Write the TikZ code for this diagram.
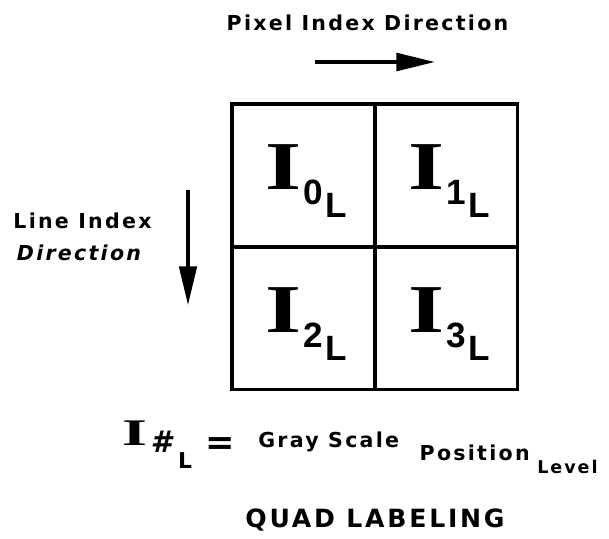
\documentclass[tikz,border=0pt]{standalone}
\usepackage{fontspec}
\setmainfont{DejaVu Sans}
\newfontfamily\trackfont[LetterSpace=11]{DejaVu Sans}
\newfontfamily\subfont{Liberation Sans}
\newfontfamily\slabfont{Liberation Serif}
\usetikzlibrary{arrows.meta,positioning}

\newcommand{\quadlab}[1]{\scalebox{1.35}[1]{\slabfont\bfseries\fontsize{39}{39}\selectfont I}%
  \hspace{1pt}\raisebox{-8.5pt}{\subfont\bfseries\fontsize{20}{20}\selectfont #1}\hspace{1.5pt}%
  \raisebox{-16pt}{\subfont\bfseries\fontsize{20}{20}\selectfont L}}

\tikzset{
  cell/.style={draw, line width=1.8pt, minimum size=2.86cm, inner sep=0pt},
  lab/.style={inner sep=0pt},
  caption/.style={inner sep=0pt, font=\trackfont\bfseries\fontsize{11.7}{14}\selectfont},
  dirarrow/.style={line width=2.2pt, -{Triangle[length=22pt,width=10pt]}}
}

\begin{document}
\begin{tikzpicture}[x=0.02cm, y=-0.02cm]
  \useasboundingbox (0,0) rectangle (609,538);

  % direction labels
  \node[caption, anchor=base] (pixtxt) at (367.5,30) {Pixel Index Direction};
  \coordinate (pxa) at (315,62);
  \coordinate (pxb) at (435,62);
  \draw[dirarrow] (pxa) -- (pxb);

  \node[caption, anchor=base] (linetxt) at (82.5,228) {Line Index};
  \node[caption, anchor=base, font=\trackfont\bfseries\itshape\fontsize{11.7}{14}\selectfont] (dirtxt) at (79,260) {Direction};
  \coordinate (lna) at (188,190);
  \coordinate (lnb) at (188,305);
  \draw[dirarrow, line width=1.8pt] (lna) -- (lnb);

  % the quad
  \node[cell] (q0) at (303.5,175.5) {};
  \node[cell] (q1) at (446,175.5) {};
  \node[cell] (q2) at (303.5,318) {};
  \node[cell] (q3) at (446,318) {};
  \node[lab] (l0) at ([shift={(3,6)}]q0.center) {\quadlab{0}};
  \node[lab] (l1) at ([shift={(3,6)}]q1.center) {\quadlab{1}};
  \node[lab] (l2) at ([shift={(3,6)}]q2.center) {\quadlab{2}};
  \node[lab] (l3) at ([shift={(3,6)}]q3.center) {\quadlab{3}};

  % legend
  \node[lab, anchor=base] (fI) at (134.5,445) {\scalebox{1.7}[1]{\slabfont\bfseries\fontsize{21.4}{21}\selectfont I}};
  \node[lab, anchor=base] (fnum) at (161,452) {\bfseries\itshape\fontsize{17}{17}\selectfont\#};
  \node[lab, anchor=base] (fL) at (185,468) {\bfseries\fontsize{12.4}{13}\selectfont L};
  \node[lab, anchor=base] (feq) at (220,454) {\bfseries\fontsize{20}{20}\selectfont =};
  \node[caption, anchor=base west] (gray) at (258,447) {Gray Scale};
  \node[caption, anchor=base east] (pos) at (530,460) {Position};
  \node[caption, anchor=base west, font=\trackfont\bfseries\fontsize{10}{12}\selectfont] (lev) at (537,473) {Level};

  \node[caption, anchor=base, font=\trackfont\bfseries\fontsize{14.3}{17}\selectfont] (title) at (375,527) {QUAD LABELING};
\end{tikzpicture}
\end{document}
